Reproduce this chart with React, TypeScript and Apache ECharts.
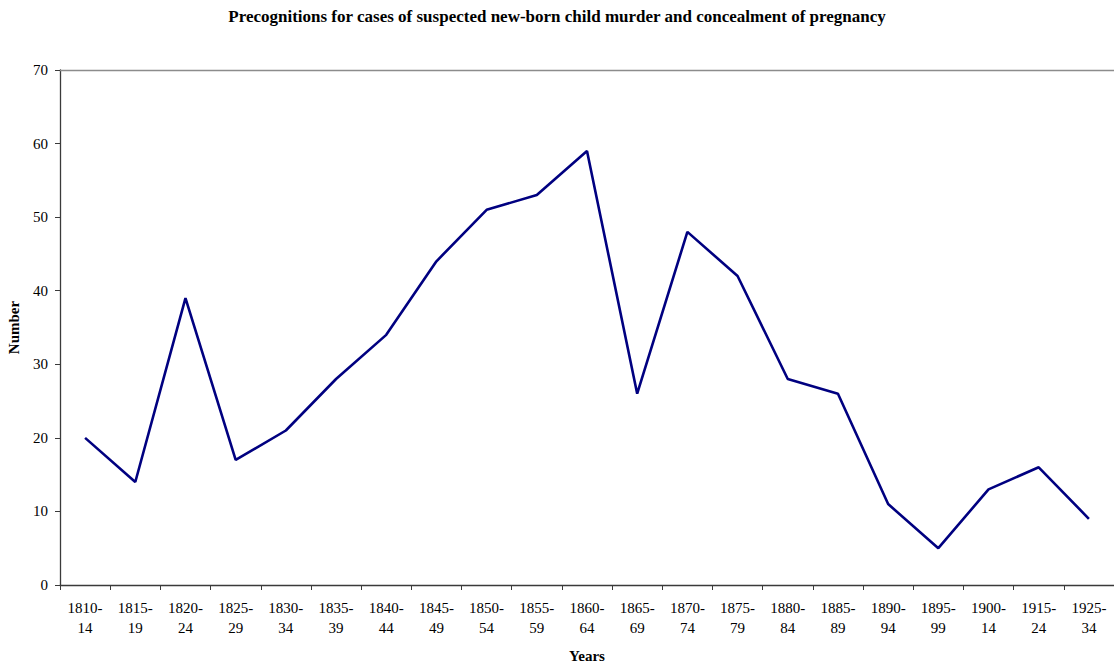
import React, { useEffect, useRef } from "react";
import * as echarts from "echarts";

const categories = [
  "1810-\n14", "1815-\n19", "1820-\n24", "1825-\n29", "1830-\n34", "1835-\n39", "1840-\n44",
  "1845-\n49", "1850-\n54", "1855-\n59", "1860-\n64", "1865-\n69", "1870-\n74", "1875-\n79",
  "1880-\n84", "1885-\n89", "1890-\n94", "1895-\n99", "1900-\n14", "1915-\n24", "1925-\n34",
];
const numbers = [20, 14, 39, 17, 21, 28, 34, 44, 51, 53, 59, 26, 48, 42, 28, 26, 11, 5, 13, 16, 9];
const yMin = 0;
const yMax = 70;
const yInterval = 10;

const font = "'Liberation Serif', 'Times New Roman', serif";

export default function App() {
  const ref = useRef<HTMLDivElement>(null);
  useEffect(() => {
    if (!ref.current) return;
    const chart = echarts.init(ref.current, undefined, { renderer: "svg" });
    chart.setOption({
      animation: false,
      backgroundColor: "#ffffff",
      title: {
        text: "Precognitions for cases of suspected new-born child murder and concealment of pregnancy",
        left: "center",
        top: 3,
        textStyle: { fontFamily: font, fontSize: 17, fontWeight: "bold", color: "#000" },
      },
      grid: {
        left: 60,
        right: 0,
        top: 70,
        bottom: 79,
        containLabel: false,
        outerBoundsMode: "none",
      },
      xAxis: [
        {
          type: "category",
          data: categories,
          boundaryGap: true,
          name: "Years",
          nameLocation: "middle",
          nameGap: 63,
          nameTextStyle: { fontFamily: font, fontSize: 15, fontWeight: "bold", color: "#000" },
          axisLine: { lineStyle: { color: "#3a3a3a", width: 1.3 } },
          axisTick: { show: true, length: 5, inside: false, lineStyle: { color: "#3a3a3a" } },
          axisLabel: {
            fontFamily: font,
            fontSize: 15,
            color: "#000",
            lineHeight: 20,
            margin: 13,
            interval: 0,
          },
          splitLine: { show: false },
        },
        {
          type: "category",
          data: categories,
          position: "top",
          boundaryGap: true,
          axisLine: { show: true, lineStyle: { color: "#8c8c8c", width: 1.3 } },
          axisTick: { show: false },
          axisLabel: { show: false },
          splitLine: { show: false },
        },
      ],
      yAxis: {
        type: "value",
        min: yMin,
        max: yMax,
        interval: yInterval,
        name: "Number",
        nameLocation: "middle",
        nameGap: 39,
        nameRotate: 90,
        nameTextStyle: { fontFamily: font, fontSize: 15, fontWeight: "bold", color: "#000" },
        axisLine: { show: true, lineStyle: { color: "#3a3a3a", width: 1.3 } },
        axisTick: { show: true, length: 5, lineStyle: { color: "#3a3a3a" } },
        axisLabel: { fontFamily: font, fontSize: 15, color: "#000", margin: 12 },
        splitLine: { show: false },
      },
      series: [
        {
          type: "line",
          xAxisIndex: 0,
          data: numbers,
          symbol: "none",
          lineStyle: { color: "#000080", width: 2.6 },
          itemStyle: { color: "#000080" },
        },
      ],
    });
    return () => chart.dispose();
  }, []);
  return (
    <div
      ref={ref}
      style={{ position: "absolute", left: 0, top: 0, width: 1114, height: 664 }}
    />
  );
}
